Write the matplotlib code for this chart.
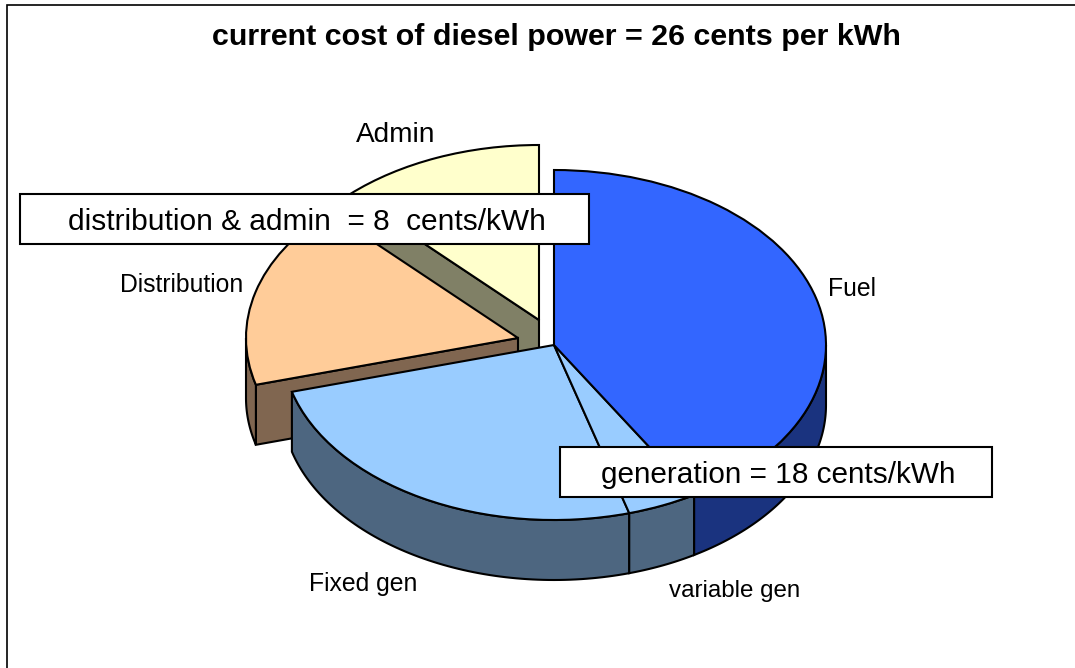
import numpy as np
from matplotlib import pyplot as plt
from matplotlib.patches import Wedge, Rectangle
from matplotlib.transforms import Affine2D

plt.rcParams['font.family'] = ['Liberation Sans', 'DejaVu Sans']

# cents per kWh
slices = ['Fuel', 'variable gen', 'Fixed gen', 'Distribution', 'Admin']
values = [10.76, 1.08, 6.54, 4.44, 3.18]
title = 'current cost of diesel power = 26 cents per kWh'
box_texts = ['distribution & admin  = 8  cents/kWh', 'generation = 18 cents/kWh']

top_colors = ['#3366FF', '#99CCFF', '#99CCFF', '#FFCC99', '#FFFFCC']
side_colors = ['#1A337F', '#4D6680', '#4D6680', '#806650', '#808066']
# pie centre for every slice, only the last two are pulled out
centres = [(554, 345), (554, 345), (554, 345), (518, 338), (539, 320)]
label_pos = [(852, 289), (735, 591), (363, 584), (182, 285), (396, 135)]
label_size = [17.8, 17.4, 17.8, 17.8, 20.2]

rx, ry, depth = 272, 175, 60

fig = plt.figure(figsize=(10.75, 6.68), dpi=100)
ax = fig.add_axes([0, 0, 1, 1])
ax.set_xlim(0, 1075)
ax.set_ylim(668, 0)
ax.axis('off')


def rim(c, t):
    return c[0] + rx * np.cos(np.radians(t)), c[1] + ry * np.sin(np.radians(t))


def drawSide(c, t1, t2, color, z):
    # outer wall, only the part facing the viewer
    a, b = max(t1, 0), min(t2, 180)
    if a >= b:
        return
    t = np.linspace(a, b, 80)
    x, y = rim(c, t)
    ax.fill(np.r_[x, x[::-1]], np.r_[y, y[::-1] + depth], fc=color, ec='black', lw=1.5, zorder=z)


def drawCut(c, t, color, z):
    # flat face left by pulling a slice out
    x, y = rim(c, t)
    ax.fill([c[0], x, x, c[0]], [c[1], y, y + depth, c[1] + depth], fc=color, ec='black', lw=1.5, zorder=z)


edges = np.r_[0, np.cumsum(values)] / sum(values) * 360 - 90

# back to front: admin, distribution, then the rest of the pie
order = [4, 3, 2, 1, 0]
for z, i in enumerate(order):
    t1, t2 = edges[i], edges[i + 1]
    c = centres[i]
    if i >= 3:
        drawCut(c, t1, side_colors[i], 2 * z)
    drawSide(c, t1, t2, side_colors[i], 2 * z)
    tr = Affine2D().scale(rx, ry).translate(c[0], c[1]) + ax.transData
    ax.add_patch(Wedge((0, 0), 1, t1, t2, fc=top_colors[i], ec='black', lw=1.5, transform=tr, zorder=2 * z + 1))

for name, pos, size in zip(slices, label_pos, label_size):
    ax.text(pos[0], pos[1], name, fontsize=size, ha='center', va='center', zorder=20)

ax.text(556, 37, title, fontsize=21.9, fontweight='bold', ha='center', va='center', zorder=20)

ax.add_patch(Rectangle((20, 194), 569, 50, fc='white', ec='black', lw=1.5, zorder=30))
ax.text(307, 222, box_texts[0], fontsize=21.5, ha='center', va='center', zorder=31)
ax.add_patch(Rectangle((560, 447), 432, 50, fc='white', ec='black', lw=1.5, zorder=30))
ax.text(778, 475, box_texts[1], fontsize=21.4, ha='center', va='center', zorder=31)

# chart frame, only top and left are inside the picture
ax.plot([7, 7, 1075], [668, 5, 5], color='black', lw=1.2, zorder=40, solid_joinstyle='miter')

fig.savefig('out.png', dpi=100)
